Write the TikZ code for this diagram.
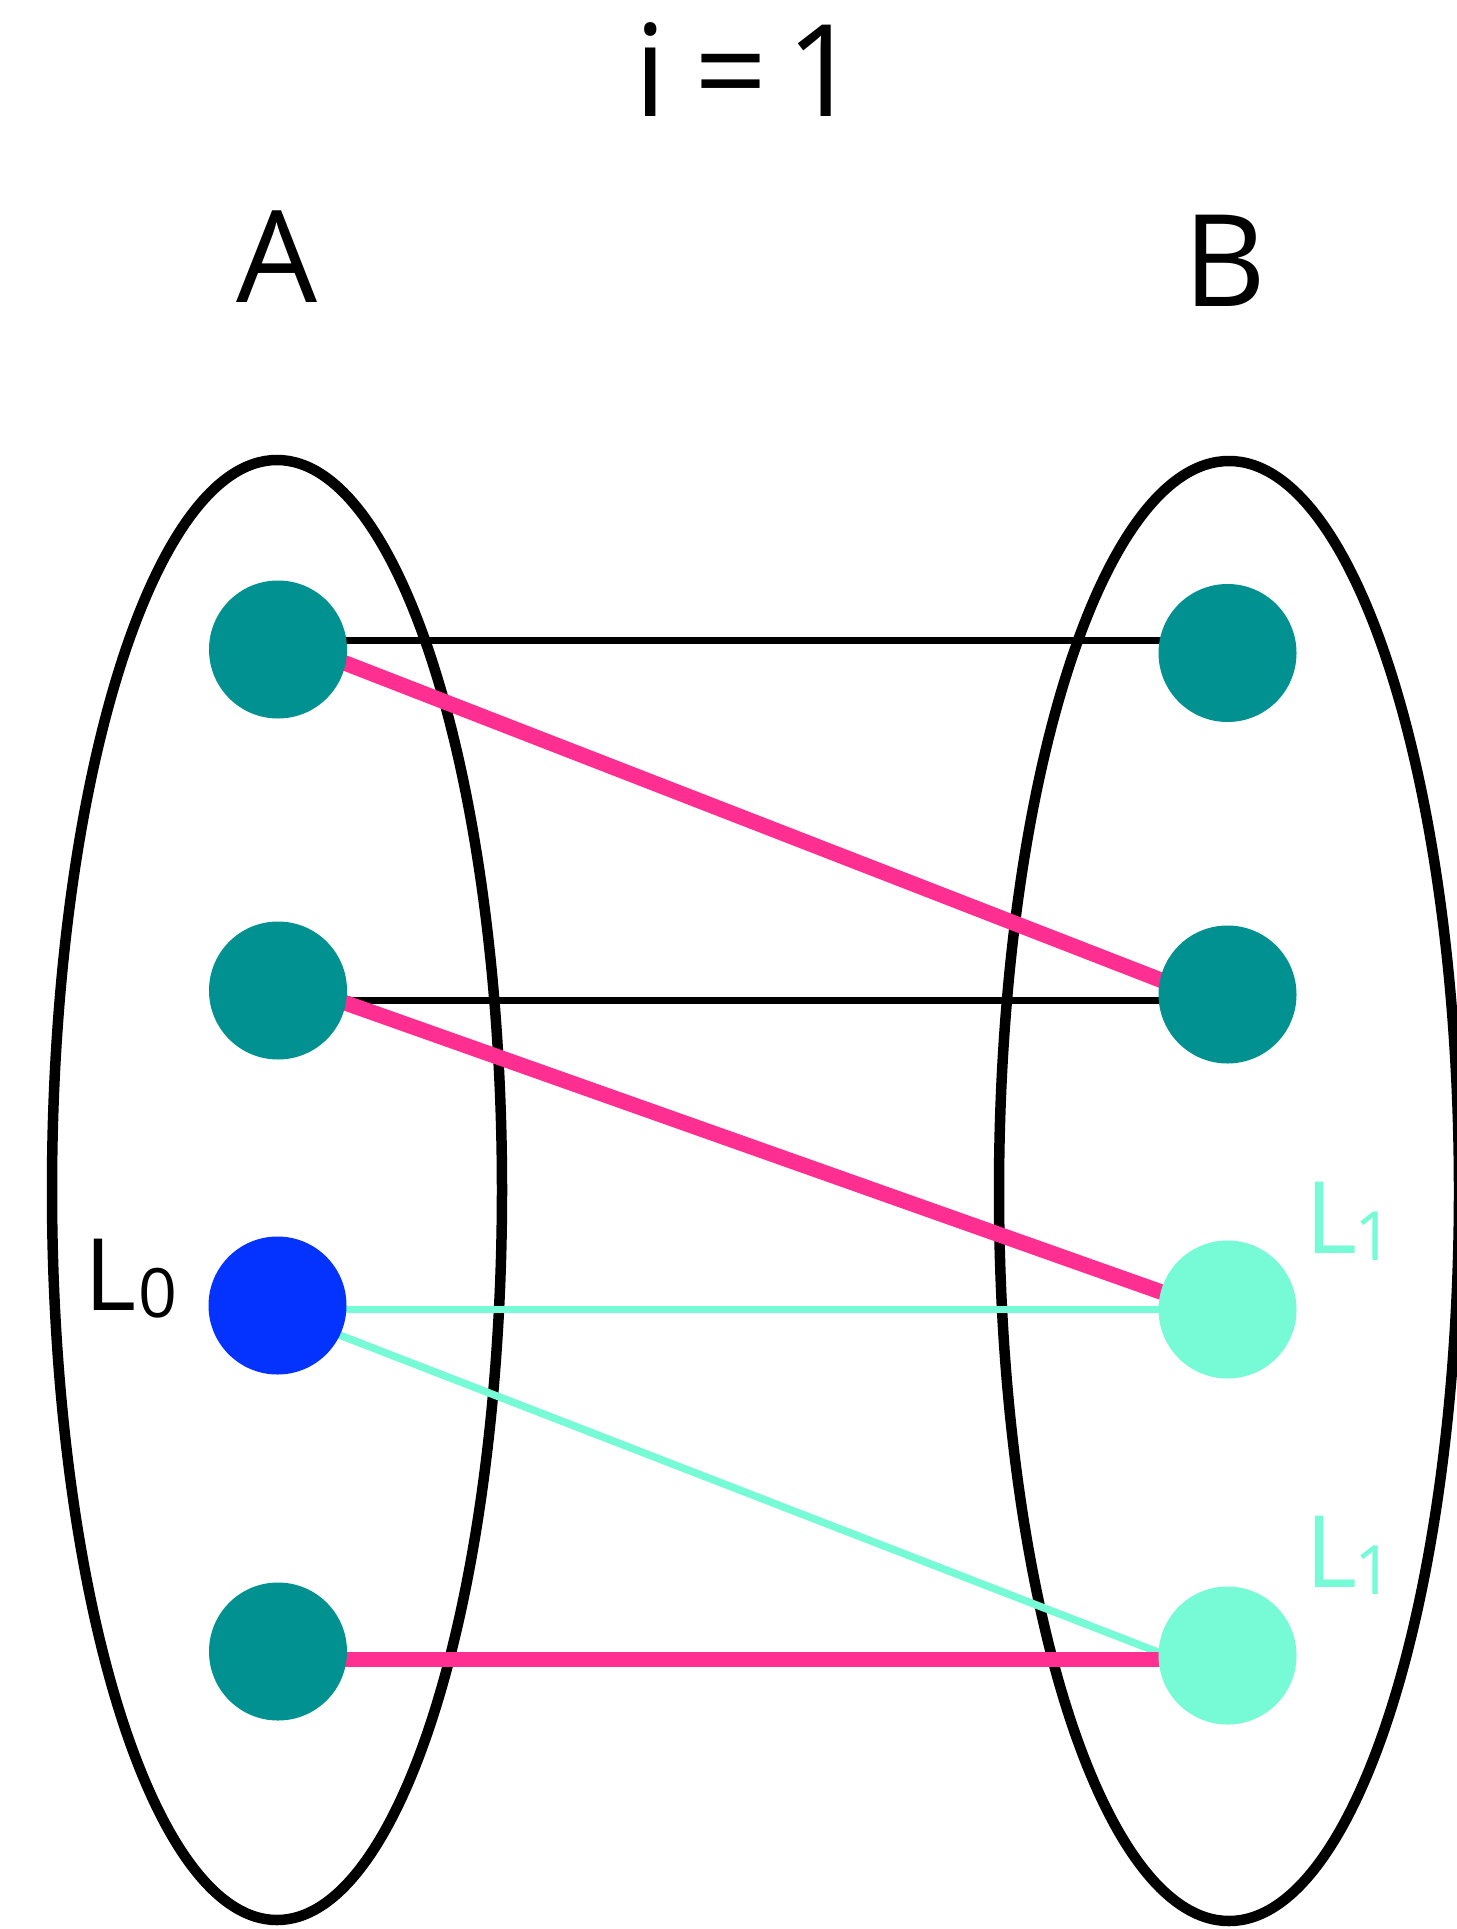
\documentclass[tikz,border=0pt]{standalone}
\usepackage{fontspec}
\setmainfont{Open Sans}
\usetikzlibrary{shapes.geometric,calc}
\definecolor{tealnode}{RGB}{1,145,144}
\definecolor{bluenode}{RGB}{4,51,255}
\definecolor{aqua}{RGB}{118,251,214}
\definecolor{hotpink}{RGB}{255,47,146}
\tikzset{
  vtx/.style={circle,fill=tealnode,minimum size=138pt,inner sep=0pt,outer sep=0pt},
  setell/.style={ellipse,draw=black,line width=10.5pt,minimum height=1460pt,inner sep=0pt},
  blackedge/.style={draw=black,line width=7pt},
  pinkedge/.style={draw=hotpink,line width=15.5pt},
  aquaedge/.style={draw=aqua,line width=7.5pt},
  bigtxt/.style={anchor=base,inner sep=0pt,font=\fontsize{128}{130}\selectfont},
  lbl/.style={anchor=base west,inner sep=0pt}
}
\newcommand{\mylab}[2]{{\fontsize{100}{100}\selectfont L}\hspace{#2}\raisebox{-7pt}{\fontsize{68}{68}\selectfont #1}}
\begin{document}
\begin{tikzpicture}[x=1pt,y=-1pt]
\useasboundingbox (0,0) rectangle (1456,1929);
\fill[white] (0,0) rectangle (1456,1929);
% sets
\node[setell,minimum width=450pt] (setA) at (277,1190) {};
\node[setell,minimum width=460pt] (setB) at (1229,1191) {};
% vertex positions (edges are drawn behind the vertices)
\coordinate (a1) at (278,649.5);
\coordinate (a2) at (278,990.5);
\coordinate (a3) at (277.5,1305.5);
\coordinate (a4) at (278,1651.5);
\coordinate (b1) at (1227.5,653);
\coordinate (b2) at (1227.5,994.5);
\coordinate (b3) at (1227.5,1309.5);
\coordinate (b4) at (1227.5,1655.5);
% edges
\draw[blackedge] ($(a1)+(0,-9.5)$) -- ($(b1)+(0,-13)$);
\draw[pinkedge] ($(a1)+(0,-12.5)$) -- ($(b2)+(0,11.5)$);
\draw[blackedge] ($(a2)+(0,10)$) -- ($(b2)+(0,6)$);
\draw[pinkedge] ($(a2)+(0,-11.5)$) -- ($(b3)+(0,6)$);
\draw[aquaedge] ($(a3)+(0,4)$) -- ($(b3)+(0,0)$);
\draw[aquaedge] ($(a3)+(0,5.5)$) -- ($(b4)+(0,23.5)$);
\draw[pinkedge] ($(a4)+(0,8)$) -- ($(b4)+(0,4)$);
% vertices
\node[vtx] (A1) at (a1) {};
\node[vtx] (A2) at (a2) {};
\node[vtx,fill=bluenode] (A3) at (a3) {};
\node[vtx] (A4) at (a4) {};
\node[vtx] (B1) at (b1) {};
\node[vtx] (B2) at (b2) {};
\node[vtx,fill=aqua] (B3) at (b3) {};
\node[vtx,fill=aqua] (B4) at (b4) {};
% labels
\node[bigtxt,anchor=base west] (title) at (634,117) {i\hspace{28pt}=\hspace{19pt}1};
\node[bigtxt] (labA) at (277,302) {A};
\node[bigtxt] (labB) at (1225,306) {B};
\node[lbl] (L0) at (84,1310) {\mylab{0}{2pt}};
\node[lbl,text=aqua] (L1a) at (1305,1253) {\mylab{1}{-3pt}};
\node[lbl,text=aqua] (L1b) at (1305,1587) {\mylab{1}{-3pt}};
\end{tikzpicture}
\end{document}
